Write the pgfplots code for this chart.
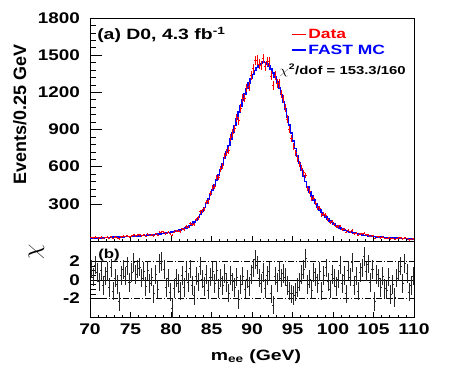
\documentclass[border=0pt]{standalone}
\usepackage{pgfplots}
\pgfplotsset{compat=1.18}
\usepackage{pgfplotstable}
\usepackage{fontspec}
\setmainfont{Liberation Sans}

\pgfplotstableread{
lo mc data chi
70.00 23 29 1.2
70.25 24 25 0.3
70.50 24 32 1.6
70.75 25 29 0.8
71.00 25 24 -0.2
71.25 26 31 1.0
71.50 26 23 -0.6
71.75 27 29 0.4
72.00 27 32 0.9
72.25 28 24 -0.8
72.50 28 35 1.3
72.75 30 23 -1.2
73.00 30 31 0.2
73.25 31 28 -0.5
73.50 32 19 -2.3
73.75 32 35 0.5
74.00 33 39 1.1
74.25 35 37 0.4
74.50 35 44 1.5
74.75 37 35 -0.3
75.00 37 42 0.8
75.25 39 51 1.9
75.50 39 43 0.6
75.75 41 49 1.2
76.00 41 50 1.4
76.25 43 44 0.2
76.50 44 50 0.9
76.75 45 40 -0.7
77.00 47 54 1.0
77.25 48 45 -0.4
77.50 50 52 0.3
77.75 52 41 -1.5
78.00 54 58 0.6
78.25 56 48 -1.0
78.50 58 72 1.8
78.75 60 75 2.0
79.00 62 71 1.1
79.25 65 59 -0.8
79.50 68 70 0.2
79.75 70 59 -1.3
80.00 73 46 -3.1
80.25 77 69 -0.9
80.50 80 82 0.2
80.75 84 80 -0.4
81.00 88 77 -1.2
81.25 94 99 0.5
81.50 100 92 -0.8
81.75 106 115 0.9
82.00 115 112 -0.3
82.25 125 138 1.2
82.50 137 130 -0.6
82.75 153 132 -1.7
83.00 170 175 0.4
83.25 190 187 -0.2
83.50 214 236 1.5
83.75 241 243 0.1
84.00 271 260 -0.7
84.25 304 314 0.6
84.50 339 319 -1.1
84.75 376 382 0.3
85.00 414 432 0.9
85.25 451 443 -0.4
85.50 491 513 1.0
85.75 534 513 -0.9
86.00 578 583 0.2
86.25 622 607 -0.6
86.50 670 688 0.7
86.75 720 712 -0.3
87.00 771 732 -1.4
87.25 824 838 0.5
87.50 877 871 -0.2
87.75 932 908 -0.8
88.00 986 995 0.3
88.25 1039 971 -2.1
88.50 1090 1073 -0.5
88.75 1140 1153 0.4
89.00 1187 1153 -1.0
89.25 1232 1236 0.1
89.50 1274 1249 -0.7
89.75 1311 1333 0.6
90.00 1345 1393 1.3
90.25 1375 1457 2.2
90.50 1400 1460 1.6
90.75 1420 1428 0.2
91.00 1434 1419 -0.4
91.25 1443 1473 0.8
91.50 1442 1408 -0.9
91.75 1430 1449 0.5
92.00 1412 1446 0.9
92.25 1388 1332 -1.5
92.50 1357 1258 -2.7
92.75 1322 1336 0.4
93.00 1281 1270 -0.3
93.25 1234 1269 1.0
93.50 1181 1188 0.2
93.75 1124 1147 0.7
94.00 1064 1074 0.3
94.25 1001 982 -0.6
94.50 937 900 -1.2
94.75 872 828 -1.5
95.00 809 761 -1.7
95.25 746 711 -1.3
95.50 686 665 -0.8
95.75 629 624 -0.2
96.00 575 589 0.6
96.25 525 550 1.1
96.50 479 529 2.3
96.75 436 426 -0.5
97.00 397 399 0.1
97.25 362 341 -1.1
97.50 331 346 0.8
97.75 302 307 0.3
98.00 276 269 -0.4
98.25 252 266 0.9
98.50 230 212 -1.2
98.75 210 217 0.5
99.00 192 210 1.3
99.25 176 173 -0.2
99.50 161 148 -1.0
99.75 148 155 0.6
100.00 135 137 0.2
100.25 125 117 -0.7
100.50 114 115 0.1
100.75 106 122 1.6
101.00 97 93 -0.4
101.25 91 96 0.5
101.50 84 70 -1.5
101.75 78 87 1.0
102.00 72 75 0.3
102.25 68 84 1.9
102.50 63 58 -0.6
102.75 59 62 0.4
103.00 55 46 -1.2
103.25 52 58 0.8
103.50 49 58 1.3
103.75 46 63 2.5
104.00 44 50 0.9
104.25 41 52 1.7
104.50 39 37 -0.3
104.75 37 44 1.1
105.00 35 21 -2.3
105.25 34 38 0.6
105.50 32 33 0.2
105.75 31 26 -0.8
106.00 30 32 0.4
106.25 28 23 -0.9
106.50 28 22 -1.1
106.75 26 28 0.3
107.00 26 18 -1.6
107.25 24 22 -0.5
107.50 24 15 -1.9
107.75 22 23 0.2
108.00 22 26 0.9
108.25 20 27 1.5
108.50 20 18 -0.4
108.75 19 27 1.8
109.00 19 22 0.7
109.25 17 12 -1.3
109.50 17 14 -0.6
109.75 16 18 0.4
110.00 16 nan nan
}\zdata

\pgfplotsset{
  rootaxis/.style={
    scale only axis, width=324bp,
    xmin=70, xmax=110,
    xtick={70,75,...,110}, minor x tick num=4,
    xtick pos=left, ytick pos=left, tick align=inside,
    axis line style={line width=0.8bp},
    major tick style={black, line width=0.6bp},
    minor tick style={black, line width=0.6bp},
    /pgf/number format/assume math mode=true,
    /pgf/number format/1000 sep={},
    tick label style={font=\fontsize{15.5}{18}\selectfont\bfseries},
    yticklabel style={inner xsep=0pt, xshift=-10bp, xscale=1.22},
    xticklabel style={yshift=-3bp, xscale=1.25},
    major tick length=12bp, minor tick length=6bp,
    x tick style={/pgfplots/major tick length=5bp,/pgfplots/minor tick length=2.5bp},
    clip=true,
  },
}

\begin{document}
\begin{tikzpicture}[x=1bp,y=1bp]
\path[use as bounding box] (0,0) rectangle (452,384);

\begin{axis}[rootaxis,
  at={(90bp,143bp)}, anchor=south west, height=223bp,
  ymin=0, ymax=1800,
  ytick={300,600,...,1800}, minor y tick num=4,
  xticklabels={},
  legend style={at={(axis description cs:0.621,0.958)}, anchor=north west,
    draw=none, fill=none, inner xsep=0pt, inner ysep=0pt,
    font=\fontsize{13.5}{16}\selectfont\bfseries,
    row sep=2bp,
    nodes={xscale=1.3, inner xsep=1bp, inner ysep=1.5bp}},
  legend cell align=left,
  legend image code/.code={\draw[#1] (0bp,0bp) -- (14bp,0bp);},
]
\addplot[blue, line width=1.6bp, const plot mark left, forget plot] table[x=lo, y=mc] {\zdata};
\addplot[red, only marks, mark=*, mark size=0.01bp, forget plot,
  skip coords between index={160}{161},
  error bars/.cd, x dir=both, x fixed=0.125, y dir=both, y explicit, error mark=none,
  error bar style={/tikz/draw=red, /tikz/color=red, /tikz/line width=0.9bp}]
  table[x expr=\thisrow{lo}+0.125, y=data, y error expr={sqrt(\thisrow{data})}] {\zdata};
\addlegendimage{red, line width=0.8bp}
\addlegendentry{\textcolor{red}{Data}}
\addlegendimage{blue, line width=1.6bp}
\addlegendentry{\textcolor{blue}{FAST MC}}
\end{axis}

\begin{axis}[rootaxis,
  at={(90bp,67bp)}, anchor=south west, height=76bp,
  ymin=-4, ymax=4.2,
  ytick={-2,0,2}, minor y tick num=3,
]
\addplot[black, line width=0.6bp, dash pattern=on 6bp off 2bp on 1bp off 2bp] coordinates {(70,2) (110,2)};
\addplot[black, line width=0.6bp, dash pattern=on 6bp off 2bp on 1bp off 2bp] coordinates {(70,-2) (110,-2)};
\addplot[black, line width=0.6bp] coordinates {(70,0) (110,0)};
\addplot[black!85, only marks, mark=*, mark size=0.01bp,
  skip coords between index={160}{161},
  error bars/.cd, x dir=both, x fixed=0.125, y dir=both, y fixed=1, error mark=none,
  error bar style={/tikz/draw=black!85, /tikz/line width=0.8bp}]
  table[x expr=\thisrow{lo}+0.125, y=chi] {\zdata};
\end{axis}

\node[anchor=base west, xscale=1.3, inner sep=0pt, font=\fontsize{15}{18}\selectfont\bfseries] at (97,344.5) {(a) D0, 4.3 fb\textsuperscript{-1}};
\node[anchor=base west, xscale=1.3, inner sep=0pt, font=\fontsize{11.5}{14}\selectfont\bfseries] at (279,310) {$\chi$\textsuperscript{2}/dof = 153.3/160};
\node[anchor=base west, xscale=1.3, inner sep=0pt, font=\fontsize{13}{15}\selectfont\bfseries] at (98,126) {(b)};
\node[anchor=base, rotate=90, inner sep=0pt, font=\fontsize{18}{21}\selectfont\bfseries] at (26,269.5) {Events/0.25 GeV};
\node[rotate=90, inner sep=0pt, font=\fontsize{24}{28}\selectfont] at (36.5,132) {$\chi$};
\node[anchor=base, xscale=1.3, inner sep=0pt, font=\fontsize{15}{18}\selectfont\bfseries] at (256,24) {m\textsubscript{ee} (GeV)};
\end{tikzpicture}
\end{document}
